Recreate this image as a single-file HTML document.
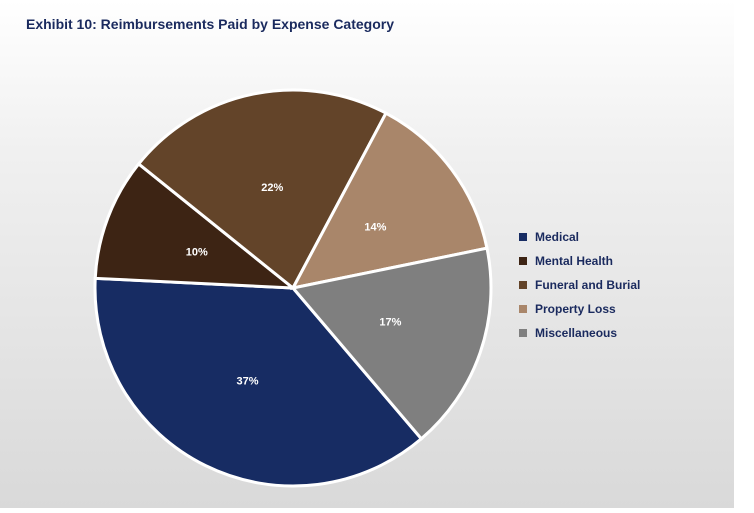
<!DOCTYPE html>
<html><head><meta charset="utf-8"><style>
body{margin:0;width:754px;height:509px;background:#fff;overflow:hidden}
#chart{position:absolute;left:0;top:0;width:734px;height:508px;background:linear-gradient(#ffffff 0%,#f0f0f0 30%,#d9d9d9 100%)}
text{font-family:"Liberation Sans",sans-serif;font-weight:bold}
</style></head><body>
<div id="chart">
<svg width="734" height="508" id="svg">
<text x="26" y="29" font-size="14" fill="#1a2a5e">Exhibit 10: Reimbursements Paid by Expense Category</text>
<g id="slices"></g><g id="labels"></g><g id="legend"></g>
</svg></div>
<script>
const categories=["Medical","Mental Health","Funeral and Burial","Property Loss","Miscellaneous"];
const values=[37,10,22,14,17];
const colors=["#172c63","#3d2414","#634429","#a9866a","#7f7f7f"];
const cx=293,cy=288,r=198,startDeg=49.6;
const ns="http://www.w3.org/2000/svg";
const total=values.reduce((a,b)=>a+b,0);
const sG=document.getElementById('slices'),lG=document.getElementById('labels'),gG=document.getElementById('legend');
function pt(deg,rad){const a=deg*Math.PI/180;return [cx+rad*Math.cos(a),cy+rad*Math.sin(a)];}
let ang=startDeg;
values.forEach((v,i)=>{
 const sweep=v/total*360,a2=ang+sweep;
 const p1=pt(ang,r),p2=pt(a2,r);
 const path=document.createElementNS(ns,'path');
 path.setAttribute('d',`M${cx},${cy}L${p1[0]},${p1[1]}A${r},${r} 0 ${sweep>180?1:0} 1 ${p2[0]},${p2[1]}Z`);
 path.setAttribute('fill',colors[i]);path.setAttribute('stroke','#fff');path.setAttribute('stroke-width','3');
 
 
 sG.appendChild(path);
 const m=pt(ang+sweep/2,r*0.52);
 const t=document.createElementNS(ns,'text');
 t.setAttribute('x',m[0]);t.setAttribute('y',m[1]+4);t.setAttribute('text-anchor','middle');
 t.setAttribute('font-size','11');t.setAttribute('fill','#fff');t.textContent=v+'%';
 
 
 lG.appendChild(t);
 const y=237+i*24;
 const sq=document.createElementNS(ns,'rect');
 sq.setAttribute('x',519);sq.setAttribute('y',y-4);sq.setAttribute('width',8);sq.setAttribute('height',8);sq.setAttribute('fill',colors[i]);
 
 
 gG.appendChild(sq);
 const lt=document.createElementNS(ns,'text');
 lt.setAttribute('x',535);lt.setAttribute('y',y+4);lt.setAttribute('font-size','12');lt.setAttribute('fill','#1a2a5e');lt.textContent=categories[i];
 
 
 gG.appendChild(lt);
 ang=a2;
});
</script>
</body></html>
